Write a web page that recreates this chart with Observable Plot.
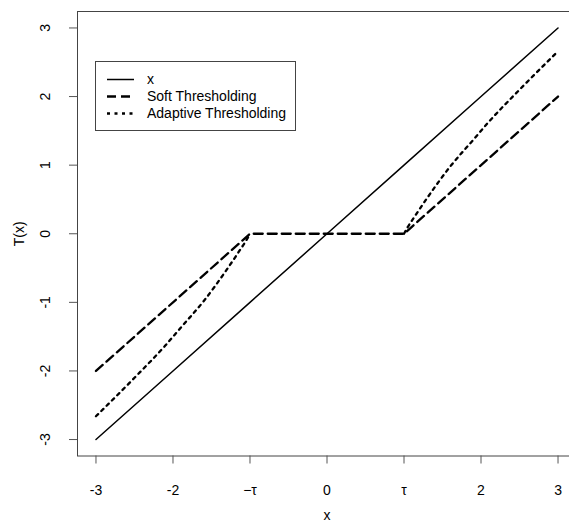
<!DOCTYPE html>
<html>
<head>
<meta charset="utf-8">
<script src="https://cdn.jsdelivr.net/npm/d3@7"></script>
<script src="https://cdn.jsdelivr.net/npm/@observablehq/plot@0.6"></script>
<style>
  html, body { margin: 0; padding: 0; background: #fff; overflow: hidden; }
  #wrap { position: relative; width: 569px; height: 522px; }
  #wrap svg.plot { overflow: hidden; }
  #legend { position: absolute; left: 0; top: 0; }
</style>
</head>
<body>
<div id="wrap"></div>
<script>
// ---- data ----
const identX = [-3, -2, -1, 0, 1, 2, 3];
const identY = [-3, -2, -1, 0, 1, 2, 3];

const softX = [-3, -1, 1, 3];
const softY = [-2, 0, 0, 2];

// adaptive thresholding, two branches (zero part hidden under the soft line)
const adaptNegX = [-3, -2.5, -2.1, -1.9, -1.6, -1.3, -1.12, -1.05, -1];
const adaptNegY = [-2.66, -2.1, -1.63, -1.37, -0.98, -0.52, -0.22, -0.1, 0];
const adaptPosX = [1, 1.05, 1.12, 1.3, 1.6, 1.9, 2.1, 2.5, 3];
const adaptPosY = [0, 0.1, 0.22, 0.52, 0.98, 1.37, 1.63, 2.1, 2.66];

const xTicks = [-3, -2, -1, 0, 1, 2, 3];
const xTickLabels = ["-3", "-2", "\u2212\u03c4", "0", "\u03c4", "2", "3"];
const yTicks = [-3, -2, -1, 0, 1, 2, 3];
const yTickLabels = ["-3", "-2", "-1", "0", "1", "2", "3"];

const seriesNames = ["x", "Soft Thresholding", "Adaptive Thresholding"];
const seriesDash = ["none", "9,5", "3,4.5"];
const seriesWidth = [1.5, 2.3, 2.3];

// ---- build tables ----
const identData = identX.map((x, i) => ({x, y: identY[i]}));
const softData = softX.map((x, i) => ({x, y: softY[i]}));
const adaptData = [
  ...adaptNegX.map((x, i) => ({x, y: adaptNegY[i], part: "neg"})),
  ...adaptPosX.map((x, i) => ({x, y: adaptPosY[i], part: "pos"}))
];

const font = "'Liberation Sans', Arial, sans-serif";
const fs = 14;

const chart = Plot.plot({
  width: 569,
  height: 522,
  marginLeft: 77,
  marginTop: 11,
  marginBottom: 66.5,
  marginRight: -7,
  style: {fontFamily: font, fontSize: fs + "px", color: "#000", background: "#fff"},
  x: {domain: [-3.24, 3.24]},
  y: {domain: [-3.24, 3.24]},
  marks: [
    Plot.frame({stroke: "#444", strokeWidth: 1}),
    Plot.axisX({
      ticks: xTicks, tickSize: 8, tickPadding: 21, stroke: "#555",
      tickFormat: d => xTickLabels[xTicks.indexOf(d)], label: null,
      fontSize: fs, fill: "#000"
    }),
    Plot.axisY({
      ticks: yTicks, tickSize: 8, stroke: "#555",
      tickFormat: () => "", label: null
    }),
    Plot.text(yTicks, {
      y: d => d, text: d => yTickLabels[yTicks.indexOf(d)],
      frameAnchor: "left", dx: -32, rotate: -90,
      textAnchor: "middle", lineAnchor: "middle", fontSize: fs, fill: "#000"
    }),
    Plot.text(["T(x)"], {
      text: d => d, frameAnchor: "left", dx: -58, rotate: -90,
      textAnchor: "middle", lineAnchor: "middle", fontSize: fs, fill: "#000"
    }),
    Plot.text(["x"], {
      text: d => d, x: () => 0, frameAnchor: "bottom", dy: 60,
      textAnchor: "middle", lineAnchor: "middle", fontSize: fs, fill: "#000"
    }),
    Plot.line(identData, {x: "x", y: "y", stroke: "#000", strokeWidth: seriesWidth[0]}),
    Plot.line(softData, {x: "x", y: "y", stroke: "#000", strokeWidth: seriesWidth[1], strokeDasharray: seriesDash[1]}),
    Plot.line(adaptData, {x: "x", y: "y", z: "part", curve: "monotone-x", stroke: "#000", strokeWidth: seriesWidth[2], strokeDasharray: seriesDash[2]})
  ]
});
chart.classList.add("plot");
document.getElementById("wrap").appendChild(chart);

// ---- legend ----
const leg = d3.select("#wrap").append("svg")
  .attr("id", "legend")
  .attr("width", 569).attr("height", 522)
  .style("pointer-events", "none");
const lx = 95.5, ly = 61.5, lw = 200, lh = 69;
leg.append("rect").attr("x", lx).attr("y", ly).attr("width", lw).attr("height", lh)
  .attr("fill", "#fff").attr("stroke", "#444").attr("stroke-width", 1);
const rowY = [79.5, 96.5, 113.5];
seriesNames.forEach((name, i) => {
  leg.append("line")
    .attr("x1", 107).attr("x2", 134).attr("y1", rowY[i]).attr("y2", rowY[i])
    .attr("stroke", "#000").attr("stroke-width", seriesWidth[i])
    .attr("stroke-dasharray", seriesDash[i] === "none" ? null : seriesDash[i]);
  leg.append("text")
    .attr("x", 147).attr("y", rowY[i]).attr("dy", "0.35em")
    .attr("font-family", font).attr("font-size", fs).attr("fill", "#000")
    .text(name);
});
</script>
</body>
</html>
